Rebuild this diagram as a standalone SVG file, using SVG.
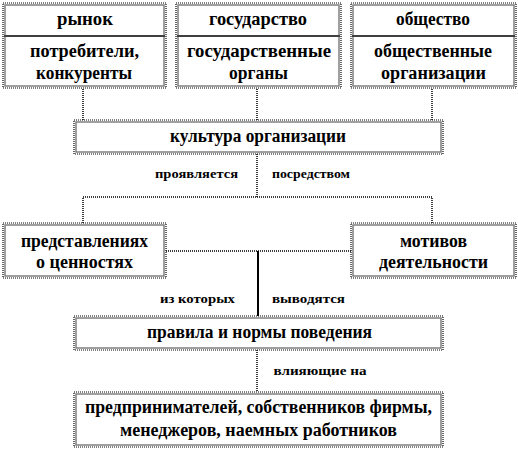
<svg xmlns="http://www.w3.org/2000/svg" width="518" height="451" viewBox="0 0 518 451">
<style>
.bg{fill:#fff}
.inner{fill:#fff;stroke:#808080;stroke-width:1.5}
.outer{fill:none;stroke:#000;stroke-width:1.2;stroke-dasharray:1 1}
.div{stroke:#404040;stroke-width:2}
.dot{fill:none;stroke:#000;stroke-width:1.5;stroke-dasharray:1 1}
.solid{fill:none;stroke:#000;stroke-width:2}
text{font-family:'Liberation Serif','Times New Roman',serif;font-weight:bold;fill:#000;text-anchor:middle}
.t{font-size:18px}
.s{font-size:13px}
</style>
<rect class="bg" x="0" y="0" width="518" height="451"/>
<g id="connectors">
<line class="dot" x1="83" y1="89" x2="83" y2="120"/>
<line class="dot" x1="257" y1="89" x2="257" y2="120"/>
<line class="dot" x1="432" y1="89" x2="432" y2="120"/>
<polyline class="dot" points="257,154 257,197"/>
<polyline class="dot" points="83,223 83,197 432,197 432,223"/>
<line class="dot" x1="166" y1="251" x2="351" y2="251"/>
<line class="solid" x1="258" y1="251" x2="258" y2="316"/>
<line class="dot" x1="257" y1="350" x2="257" y2="392"/>
<text class="s" x="196.5" y="178" textLength="83" lengthAdjust="spacingAndGlyphs">проявляется</text>
<text class="s" x="311" y="178" textLength="78" lengthAdjust="spacingAndGlyphs">посредством</text>
<text class="s" x="197.5" y="303" textLength="75" lengthAdjust="spacingAndGlyphs">из которых</text>
<text class="s" x="308.5" y="303" textLength="73" lengthAdjust="spacingAndGlyphs">выводятся</text>
<text class="s" x="320" y="375" textLength="93" lengthAdjust="spacingAndGlyphs">влияющие на</text>
</g>
<g id="market">
<rect class="inner" x="5" y="5" width="159" height="81"/>
<rect class="outer" x="3" y="3" width="163" height="85"/>
<line class="div" x1="4" y1="36" x2="165" y2="36"/>
<text class="t" x="85" y="25" textLength="56" lengthAdjust="spacingAndGlyphs">рынок</text>
<text class="t" x="84.5" y="57" textLength="109" lengthAdjust="spacingAndGlyphs">потребители,</text>
<text class="t" x="84" y="79" textLength="96" lengthAdjust="spacingAndGlyphs">конкуренты</text>
</g>
<g id="state">
<rect class="inner" x="178" y="5" width="161" height="81"/>
<rect class="outer" x="176" y="3" width="165" height="85"/>
<line class="div" x1="177" y1="36" x2="340" y2="36"/>
<text class="t" x="258" y="25" textLength="98" lengthAdjust="spacingAndGlyphs">государство</text>
<text class="t" x="259" y="57" textLength="144" lengthAdjust="spacingAndGlyphs">государственные</text>
<text class="t" x="258.5" y="79" textLength="59" lengthAdjust="spacingAndGlyphs">органы</text>
</g>
<g id="society">
<rect class="inner" x="353" y="5" width="161" height="81"/>
<rect class="outer" x="351" y="3" width="165" height="85"/>
<line class="div" x1="352" y1="36" x2="515" y2="36"/>
<text class="t" x="433" y="25" textLength="74" lengthAdjust="spacingAndGlyphs">общество</text>
<text class="t" x="433" y="57" textLength="118" lengthAdjust="spacingAndGlyphs">общественные</text>
<text class="t" x="433.5" y="79" textLength="105" lengthAdjust="spacingAndGlyphs">организации</text>
</g>
<g id="culture">
<rect class="inner" x="76" y="122" width="365" height="30"/>
<rect class="outer" x="74" y="120" width="369" height="34"/>
<text class="t" x="258" y="142" textLength="176" lengthAdjust="spacingAndGlyphs">культура организации</text>
</g>
<g id="values">
<rect class="inner" x="5" y="225" width="159" height="51"/>
<rect class="outer" x="3" y="223" width="163" height="55"/>
<text class="t" x="84.5" y="247" textLength="127" lengthAdjust="spacingAndGlyphs">представлениях</text>
<text class="t" x="84.5" y="268" textLength="97" lengthAdjust="spacingAndGlyphs">о ценностях</text>
</g>
<g id="motives">
<rect class="inner" x="353" y="225" width="161" height="51"/>
<rect class="outer" x="351" y="223" width="165" height="55"/>
<text class="t" x="433.5" y="247" textLength="67" lengthAdjust="spacingAndGlyphs">мотивов</text>
<text class="t" x="433.5" y="268" textLength="109" lengthAdjust="spacingAndGlyphs">деятельности</text>
</g>
<g id="rules">
<rect class="inner" x="76" y="318" width="365" height="30"/>
<rect class="outer" x="74" y="316" width="369" height="34"/>
<text class="t" x="259.5" y="338" textLength="225" lengthAdjust="spacingAndGlyphs">правила и нормы поведения</text>
</g>
<g id="actors">
<rect class="inner" x="76" y="394" width="365" height="51"/>
<rect class="outer" x="74" y="392" width="369" height="55"/>
<text class="t" x="258.5" y="413" textLength="347" lengthAdjust="spacingAndGlyphs">предпринимателей, собственников фирмы,</text>
<text class="t" x="258.5" y="436" textLength="277" lengthAdjust="spacingAndGlyphs">менеджеров, наемных работников</text>
</g>
</svg>
